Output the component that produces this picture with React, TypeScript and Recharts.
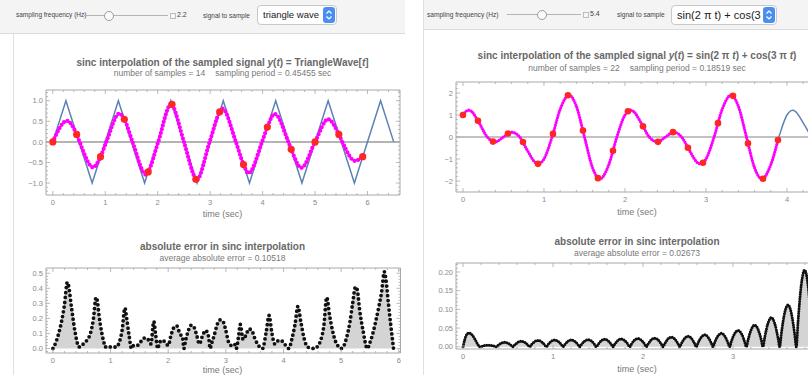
import React from 'react';
import { ComposedChart, Line, Scatter, Area, XAxis, YAxis, ReferenceLine } from 'recharts';

const FONT = '"Liberation Sans", Arial, Helvetica, sans-serif';
const FRAME = '#a8a8a8';
const TICK_TEXT = '#8a8a8a';
const TITLE = '#686868';
const SUB = '#787878';

// ================= left panel: triangle wave, fs = 2.2 Hz =================
const triangleT = [0, 0.25, 0.75, 1.25, 1.75, 2.25, 2.75, 3.25, 3.75, 4.25, 4.75, 5.25, 5.75, 6.25, 6.5];
const triangleV = [0, 1, -1, 1, -1, 1, -1, 1, -1, 1, -1, 1, -1, 1, 0];

const triSampleT = [0, 0.4545, 0.9091, 1.3636, 1.8182, 2.2727, 2.7273, 3.1818, 3.6364, 4.0909, 4.5455, 5.0, 5.4545, 5.9091];
const triSampleV = [0, 0.18, -0.36, 0.55, -0.73, 0.91, -0.91, 0.73, -0.55, 0.36, -0.18, 0, 0.18, -0.36];

const triSinc: [number, number][] = [
  [0, 0], [0.27, 0.51], [0.4545, 0.18], [0.51, 0], [0.77, -0.62], [0.9091, -0.36], [1.02, 0],
  [1.27, 0.69], [1.3636, 0.55], [1.52, 0], [1.78, -0.8], [1.8182, -0.73], [2.01, 0],
  [2.26, 0.93], [2.2727, 0.91], [2.5, 0], [2.7273, -0.91], [2.74, -0.93], [2.99, 0],
  [3.1818, 0.73], [3.23, 0.81], [3.49, 0], [3.6364, -0.55], [3.73, -0.76], [3.99, 0],
  [4.0909, 0.36], [4.23, 0.68], [4.49, 0], [4.5455, -0.18], [4.74, -0.63], [5.0, 0],
  [5.25, 0.55], [5.4545, 0.18], [5.52, 0], [5.76, -0.46], [5.9091, -0.36],
];

const triError: [number, number][] = [
  [0, 0], [0.05, 0.04], [0.1, 0.1], [0.15, 0.18], [0.2, 0.29], [0.25, 0.44], [0.27, 0.42], [0.32, 0.28],
  [0.38, 0.12], [0.4545, 0.01], [0.5, 0.02], [0.55, 0.04], [0.6, 0.06], [0.65, 0.1], [0.7, 0.19],
  [0.75, 0.34], [0.77, 0.32], [0.8, 0.22], [0.85, 0.1], [0.9, 0.02], [0.9091, 0.01], [0.95, 0.015],
  [1.0, 0.01], [1.05, 0.01], [1.1, 0.01], [1.15, 0.04], [1.2, 0.12], [1.25, 0.27], [1.28, 0.2],
  [1.32, 0.09], [1.3636, 0], [1.4, 0.02], [1.45, 0.02], [1.5, 0.03], [1.55, 0.06], [1.6, 0.07],
  [1.65, 0.06], [1.7, 0.03], [1.75, 0.18], [1.78, 0.1], [1.8182, 0], [1.85, 0.04], [1.9, 0.055],
  [1.95, 0.04], [2.0, 0.02], [2.05, 0.09], [2.1, 0.14], [2.15, 0.15], [2.2, 0.1], [2.25, 0.07],
  [2.2727, 0], [2.3, 0.05], [2.35, 0.12], [2.4, 0.155], [2.45, 0.14], [2.5, 0.08], [2.54, 0.03],
  [2.6, 0.09], [2.65, 0.12], [2.7, 0.08], [2.7273, 0], [2.75, 0.03], [2.8, 0.09], [2.85, 0.16],
  [2.9, 0.19], [2.95, 0.18], [3.0, 0.12], [3.05, 0.04], [3.1, 0.02], [3.15, 0.03], [3.1818, 0],
  [3.22, 0.08], [3.25, 0.16], [3.3, 0.06], [3.35, 0.09], [3.4, 0.13], [3.45, 0.12], [3.5, 0.07],
  [3.55, 0.03], [3.6364, 0], [3.7, 0.11], [3.75, 0.22], [3.8, 0.1], [3.85, 0.03], [3.9, 0.05],
  [3.95, 0.055], [4.0, 0.04], [4.0909, 0], [4.15, 0.07], [4.2, 0.16], [4.25, 0.28], [4.3, 0.18],
  [4.35, 0.08], [4.4, 0.02], [4.45, 0.005], [4.5455, 0], [4.6, 0.02], [4.65, 0.06], [4.7, 0.15],
  [4.75, 0.34], [4.8, 0.22], [4.85, 0.12], [4.9, 0.05], [4.95, 0.015], [5.0, 0], [5.05, 0.02],
  [5.1, 0.08], [5.15, 0.17], [5.2, 0.3], [5.25, 0.41], [5.28, 0.39], [5.32, 0.26], [5.38, 0.12],
  [5.4545, 0], [5.5, 0.04], [5.55, 0.1], [5.6, 0.18], [5.65, 0.27], [5.7, 0.37], [5.75, 0.51],
  [5.78, 0.45], [5.82, 0.3], [5.86, 0.16], [5.9091, 0],
];

// ================= right panel: sin(2πt)+cos(3πt), fs = 5.4 Hz =================
const sumSignal: [number, number][] = [
  [0, 1], [0.05, 1.2], [0.07, 1.22], [0.1, 1.18], [0.2, 0.64], [0.3, 0], [0.4, -0.22], [0.5, 0],
  [0.6, 0.22], [0.7, 0], [0.8, -0.64], [0.9, -1.18], [0.93, -1.22], [0.95, -1.2], [1.0, -1.0],
  [1.1, 0], [1.2, 1.26], [1.31, 1.91], [1.4, 1.4], [1.5, 0], [1.6, -1.4], [1.69, -1.91], [1.8, -1.26],
  [1.9, 0], [2.0, 1.0], [2.05, 1.2], [2.07, 1.22], [2.1, 1.18], [2.2, 0.64], [2.3, 0], [2.4, -0.22],
  [2.5, 0], [2.6, 0.22], [2.7, 0], [2.8, -0.64], [2.9, -1.18], [2.93, -1.22], [2.95, -1.2],
  [3.0, -1.0], [3.1, 0], [3.2, 1.26], [3.31, 1.91], [3.4, 1.4], [3.5, 0], [3.6, -1.4], [3.69, -1.91],
  [3.8, -1.26], [3.9, 0], [4.0, 1.0], [4.05, 1.2], [4.07, 1.22], [4.1, 1.18], [4.2, 0.64], [4.3, 0],
];

const sumSampleT = [0, 0.1852, 0.3704, 0.5556, 0.7407, 0.9259, 1.1111, 1.2963, 1.4815, 1.6667, 1.8519,
  2.037, 2.2222, 2.4074, 2.5926, 2.7778, 2.963, 3.1481, 3.3333, 3.5185, 3.7037, 3.8889];
const sumSampleV = [1.0, 0.74, -0.21, 0.16, -0.23, -1.22, 0.14, 1.9, 0.29, -1.87, -0.63,
  1.17, 0.49, -0.22, 0.22, -0.49, -1.17, 0.63, 1.87, -0.29, -1.9, -0.14];

const sumError: [number, number][] = [
  [0, 0], [0.02, 0.02], [0.045, 0.034], [0.07, 0.037], [0.1, 0.032], [0.14, 0.017], [0.17, 0.004],
  [0.185, 0], [0.204, 0.0012], [0.241, 0.0032], [0.278, 0.004], [0.315, 0.0032], [0.352, 0.0012],
  [0.37, 0], [0.389, 0.0037], [0.426, 0.0097], [0.463, 0.012], [0.5, 0.0097], [0.537, 0.0037],
  [0.556, 0], [0.574, 0.0047], [0.611, 0.0122], [0.648, 0.015], [0.685, 0.0122], [0.722, 0.0047],
  [0.741, 0], [0.759, 0.0053], [0.796, 0.0138], [0.833, 0.017], [0.87, 0.0138], [0.907, 0.0053],
  [0.926, 0], [0.944, 0.0056], [0.981, 0.0146], [1.019, 0.018], [1.056, 0.0146], [1.093, 0.0056],
  [1.111, 0], [1.13, 0.0056], [1.167, 0.0146], [1.204, 0.018], [1.241, 0.0146], [1.278, 0.0056],
  [1.296, 0], [1.315, 0.0059], [1.352, 0.0154], [1.389, 0.019], [1.426, 0.0154], [1.463, 0.0059],
  [1.481, 0], [1.5, 0.0062], [1.537, 0.0162], [1.574, 0.02], [1.611, 0.0162], [1.648, 0.0062],
  [1.667, 0], [1.685, 0.0065], [1.722, 0.017], [1.759, 0.021], [1.796, 0.017], [1.833, 0.0065],
  [1.852, 0], [1.87, 0.0068], [1.907, 0.0178], [1.944, 0.022], [1.981, 0.0178], [2.019, 0.0068],
  [2.037, 0], [2.056, 0.0071], [2.093, 0.0186], [2.13, 0.023], [2.167, 0.0186], [2.204, 0.0071],
  [2.222, 0], [2.241, 0.0081], [2.278, 0.0211], [2.315, 0.026], [2.352, 0.0211], [2.389, 0.0081],
  [2.407, 0], [2.426, 0.0087], [2.463, 0.0227], [2.5, 0.028], [2.537, 0.0227], [2.574, 0.0087],
  [2.593, 0], [2.611, 0.0099], [2.648, 0.0259], [2.685, 0.032], [2.722, 0.0259], [2.759, 0.0099],
  [2.778, 0], [2.796, 0.0112], [2.833, 0.0292], [2.87, 0.036], [2.907, 0.0292], [2.944, 0.0112],
  [2.963, 0], [2.981, 0.0136], [3.019, 0.0356], [3.056, 0.044], [3.093, 0.0356], [3.13, 0.0136],
  [3.148, 0], [3.167, 0.018], [3.204, 0.047], [3.241, 0.058], [3.278, 0.047], [3.315, 0.018],
  [3.333, 0], [3.352, 0.0242], [3.389, 0.0632], [3.426, 0.078], [3.463, 0.0632], [3.5, 0.0242],
  [3.519, 0], [3.537, 0.0347], [3.574, 0.0907], [3.611, 0.112], [3.648, 0.0907], [3.685, 0.0347],
  [3.704, 0], [3.722, 0.0636], [3.759, 0.166], [3.796, 0.205], [3.833, 0.166], [3.87, 0.0636],
  [3.889, 0],
];

// ================= tick labels =================
const ltXMajor = [0, 1, 2, 3, 4, 5, 6];
const ltXLabels = ['0', '1', '2', '3', '4', '5', '6'];
const ltYMajor = [-1, -0.5, 0, 0.5, 1];
const ltYLabels = ['\u22121.0', '\u22120.5', '0.0', '0.5', '1.0'];
const lbYMajor = [0, 0.1, 0.2, 0.3, 0.4, 0.5];
const lbYLabels = ['0.0', '0.1', '0.2', '0.3', '0.4', '0.5'];
const rtXMajor = [0, 1, 2, 3, 4];
const rtXLabels = ['0', '1', '2', '3', '4'];
const rtYMajor = [-2, -1, 0, 1, 2];
const rtYLabels = ['\u22122', '\u22121', '0', '1', '2'];
const rbYMajor = [0, 0.05, 0.1, 0.15, 0.2];
const rbYLabels = ['0.00', '0.05', '0.10', '0.15', '0.20'];

// ================= helpers =================
const pairs = (rows: [number, number][]) => rows.map(([t, v]) => ({ t, v }));
const zip = (ts: number[], vs: number[]) => ts.map((t, i) => ({ t, v: vs[i] }));

function tickRange([lo, hi]: [number, number], step: number) {
  const out: number[] = [];
  for (let k = Math.ceil(lo / step - 1e-9); k * step <= hi + 1e-9; k++) out.push(Math.round(k * step * 1e6) / 1e6);
  return out;
}

function FrameTick(props: any) {
  const { x, y, payload, side, majors, labels } = props;
  const v = payload ? payload.value : 0;
  const idx = majors.findIndex((m: number) => Math.abs(m - v) < 1e-6);
  const len = idx >= 0 ? 4 : 2;
  let x2 = x;
  let y2 = y;
  if (side === 'bottom') y2 = y - len;
  else if (side === 'top') y2 = y + len;
  else if (side === 'left') x2 = x + len;
  else x2 = x - len;
  return (
    <g>
      <line x1={x} y1={y} x2={x2} y2={y2} stroke={FRAME} strokeWidth={0.8} />
      {idx >= 0 && labels && side === 'bottom' && (
        <text x={x} y={y + 9.5} textAnchor="middle" fontSize={7.5} fill={TICK_TEXT} fontFamily={FONT}>{labels[idx]}</text>
      )}
      {idx >= 0 && labels && side === 'left' && (
        <text x={x - 3} y={y + 2.7} textAnchor="end" fontSize={7.5} fill={TICK_TEXT} fontFamily={FONT}>{labels[idx]}</text>
      )}
    </g>
  );
}

type Frame = { left: number; top: number; right: number; bottom: number };
type PlotProps = {
  frame: Frame;
  xDomain: [number, number];
  yDomain: [number, number];
  xMajor: number[];
  xLabels: string[];
  xStep: number;
  yMajor: number[];
  yLabels: string[];
  yStep: number;
  data?: any[];
  children?: React.ReactNode;
};
const YW = 40;
const XH = 20;
const PAD = 5;

function Plot(p: PlotProps) {
  const w = p.frame.right - p.frame.left + YW + PAD;
  const h = p.frame.bottom - p.frame.top + XH + PAD;
  const xTicks = tickRange(p.xDomain, p.xStep);
  const yTicks = tickRange(p.yDomain, p.yStep);
  const axisLine = { stroke: FRAME, strokeWidth: 1 };
  return (
    <div style={{ position: 'absolute', left: p.frame.left - YW, top: p.frame.top - PAD, width: w, height: h }}>
      <ComposedChart width={w} height={h} data={p.data} margin={{ top: 0, right: 0, bottom: 0, left: 0 }}>
        <XAxis xAxisId="b" orientation="bottom" type="number" dataKey="t" domain={p.xDomain} allowDataOverflow
          ticks={xTicks} interval={0} height={XH} tickSize={0} tickMargin={0} tickLine={false} axisLine={axisLine}
          tick={<FrameTick side="bottom" majors={p.xMajor} labels={p.xLabels} />} />
        <XAxis xAxisId="t" orientation="top" type="number" dataKey="t" domain={p.xDomain} allowDataOverflow
          ticks={xTicks} interval={0} height={PAD} tickSize={0} tickMargin={0} tickLine={false} axisLine={axisLine}
          tick={<FrameTick side="top" majors={p.xMajor} />} />
        <YAxis yAxisId="l" orientation="left" type="number" dataKey="v" domain={p.yDomain} allowDataOverflow
          ticks={yTicks} interval={0} width={YW} tickSize={0} tickMargin={0} tickLine={false} axisLine={axisLine}
          tick={<FrameTick side="left" majors={p.yMajor} labels={p.yLabels} />} />
        <YAxis yAxisId="r" orientation="right" type="number" dataKey="v" domain={p.yDomain} allowDataOverflow
          ticks={yTicks} interval={0} width={PAD} tickSize={0} tickMargin={0} tickLine={false} axisLine={axisLine}
          tick={<FrameTick side="right" majors={p.yMajor} />} />
        {p.children}
      </ComposedChart>
    </div>
  );
}

function Txt(props: { x: number; y: number; size: number; color?: string; bold?: boolean; center?: boolean; children: React.ReactNode }) {
  const { x, y, size, color, bold, center } = props;
  const style: React.CSSProperties = {
    position: 'absolute',
    top: y - size * 0.6,
    lineHeight: `${size * 1.2}px`,
    fontSize: size,
    color: color || '#333',
    fontWeight: bold ? 'bold' : 'normal',
    whiteSpace: 'pre',
    fontFamily: FONT,
  };
  if (center) {
    style.left = x - 300;
    style.width = 600;
    style.textAlign = 'center';
  } else {
    style.left = x;
  }
  return <div style={style}>{props.children}</div>;
}

function Slider(props: { x0: number; x1: number; knob: number; y: number }) {
  const { x0, x1, knob, y } = props;
  return (
    <>
      <div style={{ position: 'absolute', left: x0, top: y - 0.5, width: x1 - x0, height: 1, background: '#b4b4b4' }} />
      <div style={{ position: 'absolute', left: knob - 4.5, top: y - 4.5, width: 8, height: 8, borderRadius: '50%', border: '1px solid #9c9c9c', background: '#fbfbfb' }} />
      <div style={{ position: 'absolute', left: x1 + 2, top: y - 2.5, width: 4, height: 4, border: '1px solid #bdbdbd', background: '#f7f7f7' }} />
    </>
  );
}

function Dropdown(props: { left: number; width: number; text: string; size: number }) {
  const { left, width, text, size } = props;
  return (
    <div style={{ position: 'absolute', left, top: 5, width, height: 20, border: '1px solid #c9c9c9', borderRadius: 4, background: '#fff', overflow: 'hidden', boxSizing: 'border-box' }}>
      <div style={{ position: 'absolute', left: 5, top: 0, width: width - 20, overflow: 'hidden', lineHeight: '18px', fontSize: size, color: '#1a1a1a', whiteSpace: 'pre', fontFamily: FONT }}>{text}</div>
      <div style={{ position: 'absolute', right: 1, top: 1, width: 12, height: 16, borderRadius: 3, background: '#4a8ff0' }}>
        <svg width={12} height={16} style={{ position: 'absolute', left: 0, top: 0 }}>
          <path d="M3.5 6.5 L6 4 L8.5 6.5" stroke="#fff" strokeWidth={1.2} fill="none" />
          <path d="M3.5 9.5 L6 12 L8.5 9.5" stroke="#fff" strokeWidth={1.2} fill="none" />
        </svg>
      </div>
    </div>
  );
}

const LT: Frame = { left: 45.5, top: 90, right: 399.5, bottom: 195 };
const LB: Frame = { left: 45.5, top: 268, right: 400, bottom: 353 };
const RT: Frame = { left: 456, top: 82, right: 818, bottom: 192 };
const RB: Frame = { left: 456, top: 263, right: 820, bottom: 349 };

const redDot = (r: number) => (props: any) => <circle cx={props.cx} cy={props.cy} r={r} fill="#ff2626" />;

export default function App() {
  const triData = zip(triangleT, triangleV);
  const triSamples = zip(triSampleT, triSampleV);
  const triSincData = pairs(triSinc);
  const triErrData = pairs(triError);
  const sumData = pairs(sumSignal);
  const sumSincData = pairs(sumSignal.filter(([t]) => t <= 3.85)).concat([{ t: sumSampleT[21], v: sumSampleV[21] }]);
  const sumSamples = zip(sumSampleT, sumSampleV);
  const sumErrData = pairs(sumError);
  const ids = { xAxisId: 'b', yAxisId: 'l' };

  return (
    <div style={{ position: 'absolute', left: 0, top: 0, width: 808, height: 375, overflow: 'hidden', background: '#fff', fontFamily: FONT }}>
      {/* panel chrome */}
      <div style={{ position: 'absolute', left: 0, top: 0, width: 405, height: 33, background: '#f4f4f4', borderBottom: '1px solid #dcdcdc' }} />
      <div style={{ position: 'absolute', left: 13, top: 34, width: 0, height: 341, borderLeft: '1px solid #e0e0e0' }} />
      <div style={{ position: 'absolute', left: 423, top: 0, width: 385, height: 29, background: '#f4f4f4', borderBottom: '1px solid #dcdcdc', borderLeft: '1px solid #e0e0e0' }} />
      <div style={{ position: 'absolute', left: 423, top: 30, width: 0, height: 345, borderLeft: '1px solid #e0e0e0' }} />

      {/* left controls */}
      <Txt x={16} y={15} size={6.5} color="#444">sampling frequency (Hz)</Txt>
      <Slider x0={84} x1={168} knob={108} y={15} />
      <Txt x={177} y={15} size={7} color="#444">2.2</Txt>
      <Txt x={203} y={15.5} size={6.5} color="#444">signal to sample</Txt>
      <Dropdown left={257} width={80} text="triangle wave" size={9.5} />

      {/* right controls */}
      <Txt x={427} y={14.5} size={6.6} color="#444">sampling frequency (Hz)</Txt>
      <Slider x0={507} x1={581} knob={541} y={14.5} />
      <Txt x={590} y={14.5} size={7} color="#444">5.4</Txt>
      <Txt x={617} y={15} size={6.6} color="#444">signal to sample</Txt>
      <Dropdown left={671} width={106} text={'sin(2 \u03c0 t) + cos(3 \u03c0 t)'} size={11} />

      {/* left titles */}
      <Txt x={222.5} y={63} size={10} bold center color={TITLE}>
        sinc interpolation of the sampled signal <i>y</i>(<i>t</i>) = TriangleWave[<i>t</i>]
      </Txt>
      <Txt x={222.5} y={73.5} size={8.5} center color={SUB}>
        number of samples = 14<span style={{ marginLeft: 10 }}>sampling period = 0.45455 sec</span>
      </Txt>
      <Txt x={222.5} y={214} size={9} center color={SUB}>time (sec)</Txt>
      <Txt x={222.5} y={247} size={10} bold center color={TITLE}>absolute error in sinc interpolation</Txt>
      <Txt x={222.5} y={258} size={8.5} center color={SUB}>average absolute error = 0.10518</Txt>
      <Txt x={222.5} y={370} size={9} center color={SUB}>time (sec)</Txt>

      {/* right titles */}
      <Txt x={637} y={56} size={10} bold center color={TITLE}>
        sinc interpolation of the sampled signal <i>y</i>(<i>t</i>) = sin(2 {'\u03c0'} <i>t</i>) + cos(3 {'\u03c0'} <i>t</i>)
      </Txt>
      <Txt x={637} y={68} size={8.5} center color={SUB}>
        number of samples = 22<span style={{ marginLeft: 10 }}>sampling period = 0.18519 sec</span>
      </Txt>
      <Txt x={637} y={212.5} size={9} center color={SUB}>time (sec)</Txt>
      <Txt x={637} y={242} size={10} bold center color={TITLE}>absolute error in sinc interpolation</Txt>
      <Txt x={637} y={253} size={8.5} center color={SUB}>average absolute error = 0.02673</Txt>
      <Txt x={637} y={369} size={9} center color={SUB}>time (sec)</Txt>

      {/* left top: signal + sinc interpolation */}
      <Plot frame={LT} xDomain={[-0.13, 6.62]} yDomain={[-1.29, 1.26]} xMajor={ltXMajor} xLabels={ltXLabels} xStep={0.2}
        yMajor={ltYMajor} yLabels={ltYLabels} yStep={0.1}>
        <ReferenceLine {...ids} y={0} stroke="#b4b4b4" strokeWidth={2} />
        <Line {...ids} data={triData} dataKey="v" type="linear" stroke="#5e81b5" strokeWidth={1.5} dot={false} isAnimationActive={false} />
        <Line {...ids} data={triSincData} dataKey="v" type="monotone" stroke="#ff00ff" strokeWidth={4.2} strokeDasharray="0 3.8" strokeLinecap="round" dot={false} isAnimationActive={false} />
        <Scatter {...ids} data={triSamples} dataKey="v" shape={redDot(3.6)} isAnimationActive={false} />
      </Plot>

      {/* left bottom: absolute error */}
      <Plot frame={LB} data={triErrData} xDomain={[-0.12, 6.03]} yDomain={[-0.03, 0.535]} xMajor={ltXMajor} xLabels={ltXLabels} xStep={0.2}
        yMajor={lbYMajor} yLabels={lbYLabels} yStep={0.02}>
        <Area {...ids} dataKey="v" type="monotone" stroke="none" fill="#d4d4d4" fillOpacity={1} baseValue={0} isAnimationActive={false} />
        <Line {...ids} dataKey="v" type="monotone" stroke="#111" strokeWidth={3.8} strokeDasharray="0 4.8" strokeLinecap="round" dot={false} isAnimationActive={false} />
      </Plot>

      {/* right top */}
      <Plot frame={RT} xDomain={[-0.086, 4.383]} yDomain={[-2.5, 2.5]} xMajor={rtXMajor} xLabels={rtXLabels} xStep={0.2}
        yMajor={rtYMajor} yLabels={rtYLabels} yStep={0.2}>
        <ReferenceLine {...ids} y={0} stroke="#858585" strokeWidth={1} />
        <Line {...ids} data={sumData} dataKey="v" type="monotone" stroke="#5e81b5" strokeWidth={1.5} dot={false} isAnimationActive={false} />
        <Line {...ids} data={sumSincData} dataKey="v" type="monotone" stroke="#ff00ff" strokeWidth={3.2} strokeDasharray="0 2.6" strokeLinecap="round" dot={false} isAnimationActive={false} />
        <Scatter {...ids} data={sumSamples} dataKey="v" shape={redDot(3.3)} isAnimationActive={false} />
      </Plot>

      {/* right bottom */}
      <Plot frame={RB} data={sumErrData} xDomain={[-0.078, 3.967]} yDomain={[-0.006, 0.224]} xMajor={rtXMajor} xLabels={rtXLabels} xStep={0.2}
        yMajor={rbYMajor} yLabels={rbYLabels} yStep={0.01}>
        <Area {...ids} dataKey="v" type="monotone" stroke="none" fill="#d4d4d4" fillOpacity={1} baseValue={0} isAnimationActive={false} />
        <Line {...ids} dataKey="v" type="monotone" stroke="#111" strokeWidth={3} strokeDasharray="0 2.4" strokeLinecap="round" dot={false} isAnimationActive={false} />
      </Plot>
    </div>
  );
}
